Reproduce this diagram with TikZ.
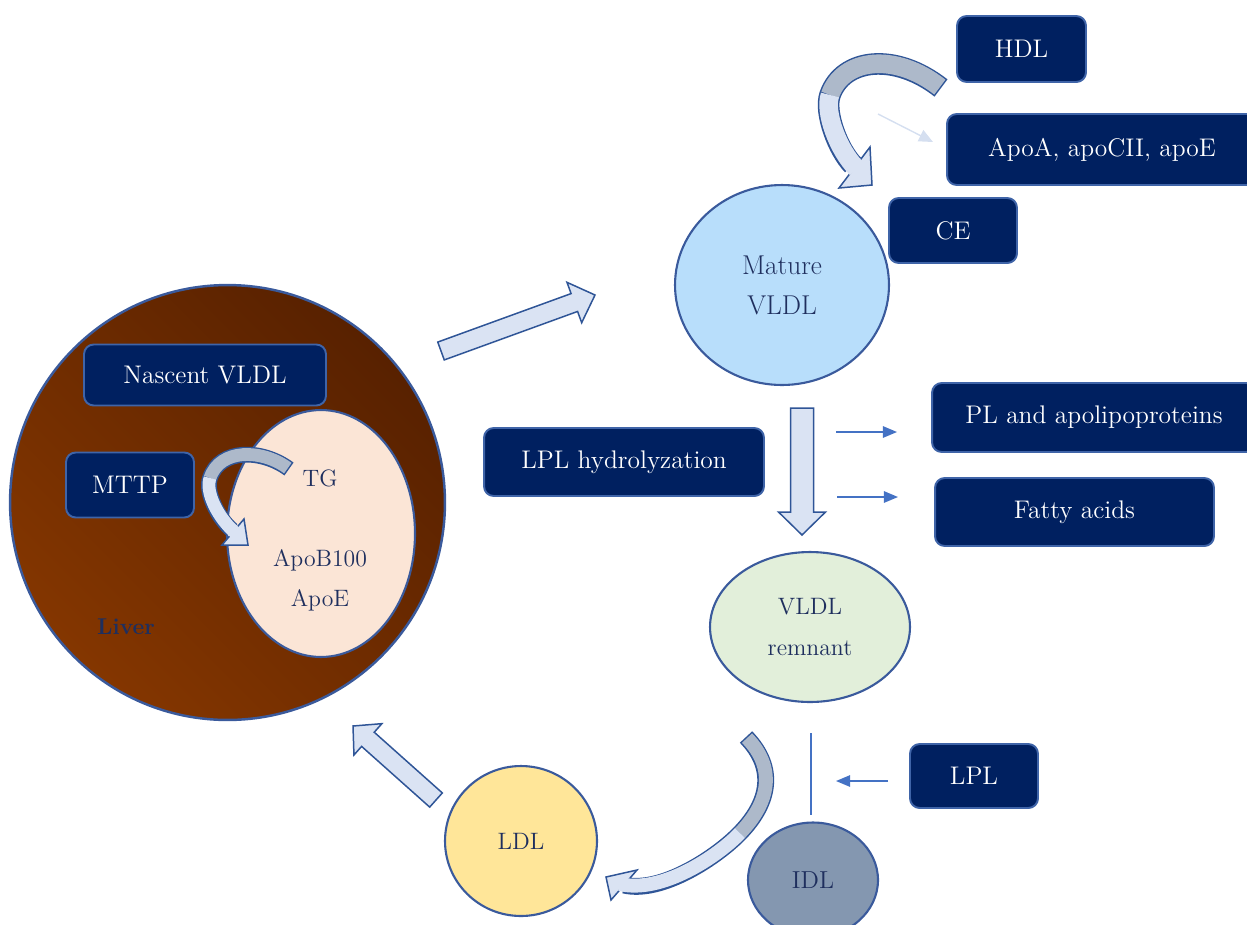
\documentclass[tikz,border=0pt]{standalone}
\usetikzlibrary{calc,arrows.meta,shapes.geometric}
\definecolor{navy}{HTML}{002060}
\definecolor{boxline}{HTML}{3F64A8}
\definecolor{ringline}{HTML}{3A5A9C}
\definecolor{liverdark}{HTML}{582100}
\definecolor{liverlight}{HTML}{843600}
\definecolor{innerfill}{HTML}{FBE5D6}
\definecolor{maturefill}{HTML}{B8DEFB}
\definecolor{remfill}{HTML}{E2EFDA}
\definecolor{idlfill}{HTML}{8497B0}
\definecolor{ldlfill}{HTML}{FFE699}
\definecolor{txtnavy}{HTML}{1F2F5E}
\definecolor{arrfill}{HTML}{DAE3F3}
\definecolor{arrgray}{HTML}{ADB9CA}
\definecolor{arrline}{HTML}{2F5597}
\definecolor{smallblue}{HTML}{4472C4}
\definecolor{faintblue}{HTML}{D5DFF0}
\tikzset{
  darkbox/.style={draw=boxline, line width=1.1pt, fill=navy, rounded corners=5.5pt,
    text=white, font=\fontsize{14.5}{16}\selectfont, inner sep=0pt},
  blob/.style={ellipse, draw=ringline, line width=1.2pt, inner sep=0pt, text=txtnavy},
  blocktip/.style={fill=arrfill, draw=arrline, line width=0.85pt, line join=miter},
  thinarrow/.style={draw=smallblue, line width=0.85pt, -{Triangle[length=8pt,width=6.5pt]}},
  smalltxt/.style={text=txtnavy, font=\fontsize{13.5}{15}\selectfont, inner sep=0pt},
}
% straight block arrow: tail, tip, half shaft width, half head width, head length
\newcommand\blkarrow[5]{%
  \coordinate (ba-b) at ($(#2)!#5!(#1)$);
  \filldraw[blocktip] ($(#1)!#3!90:(#2)$) -- ($(ba-b)!#3!-90:(#1)$) -- ($(ba-b)!#4!-90:(#1)$)
    -- (#2) -- ($(ba-b)!#4!90:(#1)$) -- ($(ba-b)!#3!90:(#1)$) -- ($(#1)!#3!-90:(#2)$) -- cycle;
}
\begin{document}
\begin{tikzpicture}[x=0.02cm,y=-0.02cm]
\useasboundingbox (0,0) rectangle (1247,924);
% ---------- Liver ----------
\node[circle, minimum size=8.7cm, inner sep=0pt, draw=ringline, line width=1.4pt,
  top color=liverdark, bottom color=liverlight, shading angle=-45] (liver) at (227.5,502.5) {};
\node[darkbox, minimum width=4.84cm, minimum height=1.22cm] (nascent) at (205,375) {Nascent VLDL};
\node[darkbox, minimum width=2.56cm, minimum height=1.30cm] (mttp) at (130,485) {MTTP};
\node[blob, fill=innerfill, minimum width=3.76cm, minimum height=4.94cm] (inner) at (321,533.5) {};
\node[smalltxt] (tg) at (320,478) {TG};
\node[smalltxt] (apob) at (320,560) {ApoB100};
\node[smalltxt] (apoe) at (320,600) {ApoE};
\node[text=txtnavy, font=\fontsize{13}{14}\selectfont\bfseries] (livertxt) at (126,627) {Liver};
% curved arrow TG -> ApoB100
\coordinate (t0) at (289,469);
\coordinate (t1) at (210,478);
\coordinate (t2) at (232,530);
\coordinate (t3) at (248,545);
\coordinate (tb1) at (244,519);
\coordinate (tb2) at (222,545);
\draw[arrline, line width=9pt] (t0) .. controls (262,449) and (220,448) .. (t1) .. controls (205,492) and (218,518) .. (t2);
\filldraw[blocktip] (tb1) -- (t3) -- (tb2) -- cycle;
\draw[arrgray, line width=7.3pt, shorten <=0.85pt] (t0) .. controls (262,449) and (220,448) .. (t1);
\draw[arrfill, line width=7.3pt, shorten >=-2.5pt] (t1) .. controls (205,492) and (218,518) .. (t2);
% ---------- liver -> mature ----------
\coordinate (a4t) at (441,351);
\coordinate (a4p) at (595,295);
\blkarrow{a4t}{a4p}{0.19cm}{0.43cm}{0.44cm}
% ---------- Mature VLDL ----------
\node[blob, fill=maturefill, minimum width=4.28cm, minimum height=4.0cm, align=center,
  font=\fontsize{15.5}{22.7}\selectfont] (mature) at (782,285) {Mature\\VLDL};
\node[darkbox, minimum width=2.58cm, minimum height=1.32cm] (hdl) at (1021.5,49) {HDL};
\node[darkbox, minimum width=6.2cm, minimum height=1.42cm] (apoa) at (1102,149.5) {ApoA, apoCII, apoE};
\node[darkbox, minimum width=2.56cm, minimum height=1.30cm] (ce) at (953,230.5) {CE};
% curved arrow from HDL
\coordinate (h0) at (941,88);
\coordinate (h1) at (830,95);
\coordinate (h2) at (853,165);
\coordinate (h3) at (872,185);
\coordinate (hb1) at (870,147);
\coordinate (hb2) at (839,188);
\draw[arrline, line width=12.3pt] (h0) .. controls (895,52) and (843,58) .. (h1) .. controls (824,112) and (838,150) .. (h2);
\filldraw[blocktip] (hb1) -- (h3) -- (hb2) -- cycle;
\draw[arrgray, line width=10.6pt, shorten <=0.85pt] (h0) .. controls (895,52) and (843,58) .. (h1);
\draw[arrfill, line width=10.6pt, shorten >=-3pt] (h1) .. controls (824,112) and (838,150) .. (h2);
% faint arrow towards ApoA box
\coordinate (f1) at (878,114);
\coordinate (f2) at (933,142);
\draw[draw=faintblue, line width=0.8pt, -{Triangle[length=8pt,width=7pt]}] (f1) -- (f2);
% ---------- LPL hydrolysis ----------
\coordinate (a5t) at (802,408);
\coordinate (a5p) at (802,535);
\blkarrow{a5t}{a5p}{0.23cm}{0.47cm}{0.46cm}
\node[darkbox, minimum width=5.6cm, minimum height=1.36cm] (lplh) at (624,462) {LPL hydrolyzation};
\node[darkbox, minimum width=6.48cm, minimum height=1.38cm] (pl) at (1094,417.5) {PL and apolipoproteins};
\node[darkbox, minimum width=5.58cm, minimum height=1.36cm] (fatty) at (1074.5,512) {Fatty acids};
\coordinate (s1a) at (836,432);
\coordinate (s1b) at (897,432);
\coordinate (s2a) at (837,497);
\coordinate (s2b) at (898,497);
\draw[thinarrow] (s1a) -- (s1b);
\draw[thinarrow] (s2a) -- (s2b);
% ---------- VLDL remnant, IDL, LDL ----------
\node[blob, fill=remfill, minimum width=4.0cm, minimum height=3.0cm, align=center,
  font=\fontsize{13.5}{23}\selectfont] (remnant) at (810,627) {VLDL\\remnant};
\coordinate (v1) at (811,733);
\coordinate (v2) at (811,815);
\draw[smallblue, line width=0.8pt] (v1) -- (v2);
\node[darkbox, minimum width=2.56cm, minimum height=1.28cm] (lpl) at (974,776) {LPL};
\coordinate (l1) at (888,781);
\coordinate (l2) at (836,781);
\draw[thinarrow] (l1) -- (l2);
\node[blob, fill=idlfill, minimum width=2.6cm, minimum height=2.3cm,
  font=\fontsize{14}{16}\selectfont] (idl) at (813,880) {IDL};
\node[blob, fill=ldlfill, minimum width=3.04cm, minimum height=3.0cm,
  font=\fontsize{13.5}{16}\selectfont] (ldl) at (521,841) {LDL};
% curved arrow remnant -> LDL
\coordinate (b0) at (746,737);
\coordinate (b1) at (740,833);
\coordinate (b2) at (624,885);
\coordinate (b3) at (606,877);
\coordinate (bb1) at (637,870);
\coordinate (bb2) at (611,900);
\draw[arrline, line width=9.6pt] (b0) .. controls (776,768) and (770,802) .. (b1) .. controls (718,856) and (662,894) .. (b2);
\filldraw[blocktip] (bb1) -- (b3) -- (bb2) -- cycle;
\draw[arrgray, line width=7.9pt, shorten <=0.85pt] (b0) .. controls (776,768) and (770,802) .. (b1);
\draw[arrfill, line width=7.9pt, shorten >=-2.5pt] (b1) .. controls (718,856) and (662,894) .. (b2);
% LDL -> liver
\coordinate (a6t) at (436,800);
\coordinate (a6p) at (353,726);
\blkarrow{a6t}{a6p}{0.19cm}{0.42cm}{0.40cm}
\end{tikzpicture}
\end{document}
